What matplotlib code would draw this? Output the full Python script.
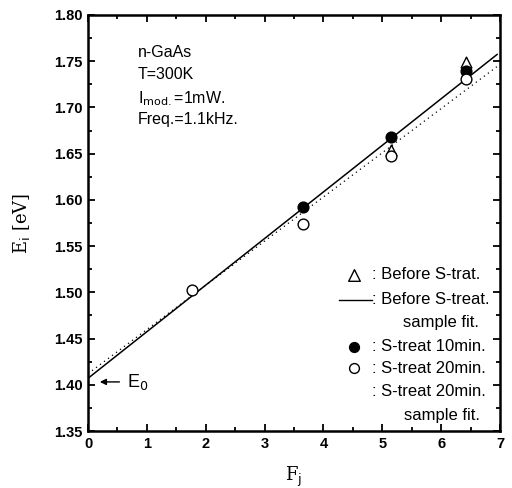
import matplotlib
matplotlib.use("Agg")
import matplotlib.pyplot as plt
from matplotlib.ticker import MultipleLocator
import numpy as np

# Data
f_tri = [5.15, 6.42]
e_tri = [1.654, 1.749]
f_s10 = [3.65, 5.15, 6.42]
e_s10 = [1.592, 1.668, 1.739]
f_s20 = [1.76, 3.65, 5.15, 6.42]
e_s20 = [1.503, 1.574, 1.647, 1.731]
fit_before = [1.407, 0.0504]   # intercept, slope
fit_s20 = [1.412, 0.0478]
fit_range = [0.0, 6.95]

xticks = [0, 1, 2, 3, 4, 5, 6, 7]
yticks = [1.35, 1.40, 1.45, 1.50, 1.55, 1.60, 1.65, 1.70, 1.75, 1.80]

plt.rcParams['font.family'] = ['Liberation Sans', 'DejaVu Sans']

fig = plt.figure(figsize=(5.12, 4.88), dpi=100)
ax = fig.add_axes([0.1719, 0.1168, 0.8047, 0.8525])

xf = np.array(fit_range)
ax.plot(xf, fit_before[0] + fit_before[1] * xf, color='black', lw=1.1, zorder=2)
ax.plot(xf, fit_s20[0] + fit_s20[1] * xf, color='black', lw=0.9, ls=(0, (1, 3)), zorder=2)

ax.scatter(f_tri, e_tri, marker='^', s=60, facecolors='white', edgecolors='black', linewidths=1.0, zorder=3)
ax.scatter(f_s10, e_s10, marker='o', s=60, facecolors='black', edgecolors='black', linewidths=1.0, zorder=4)
ax.scatter(f_s20, e_s20, marker='o', s=60, facecolors='white', edgecolors='black', linewidths=1.0, zorder=5)

ax.set_xlim(0, 7)
ax.set_ylim(1.35, 1.80)
ax.set_xticks(xticks)
ax.set_yticks(yticks)
ax.set_yticklabels([f"{v:.2f}" for v in yticks])
ax.xaxis.set_minor_locator(MultipleLocator(0.5))
ax.yaxis.set_minor_locator(MultipleLocator(0.025))
ax.tick_params(which='both', direction='in', top=True, right=True, width=1.3)
ax.tick_params(which='major', length=5, labelsize=10.5, pad=4)
ax.tick_params(which='minor', length=3)
for lab in ax.get_xticklabels() + ax.get_yticklabels():
    lab.set_fontweight('bold')
for sp in ax.spines.values():
    sp.set_linewidth(1.8)

ax.set_xlabel(r"F$_\mathrm{j}$", family='DejaVu Serif', fontsize=13, labelpad=10)
ax.set_ylabel(r"E$_\mathrm{i}$ [eV]", family='DejaVu Serif', fontsize=13, labelpad=16)

# annotation block
tk = dict(transform=ax.transAxes, fontsize=11.5, va='center', ha='left')
ax.text(0.121, 0.911, "n-GaAs", **tk)
ax.text(0.121, 0.856, "T=300K", **tk)
ax.text(0.121, 0.800, r"I$_{\mathrm{mod.}}$=1mW.", **tk)
ax.text(0.121, 0.748, "Freq.=1.1kHz.", **tk)

# E0 arrow
ax.annotate("", xy=(0.022, 0.118), xytext=(0.083, 0.118), xycoords='axes fraction',
            arrowprops=dict(arrowstyle='-|>', color='black', lw=1.0, mutation_scale=9))
ax.text(0.095, 0.118, r"E$_0$", transform=ax.transAxes, fontsize=13, va='center', ha='left')

# custom legend
lk = dict(transform=ax.transAxes, fontsize=12, va='center', ha='left')
ax.scatter([0.646], [0.375], marker='^', s=70, facecolors='white', edgecolors='black',
           linewidths=1.0, transform=ax.transAxes, clip_on=False, zorder=6)
ax.text(0.690, 0.375, ": Before S-trat.", **lk)
ax.plot([0.609, 0.690], [0.315, 0.315], color='black', lw=1.0, transform=ax.transAxes)
ax.text(0.690, 0.315, ": Before S-treat.", **lk)
ax.text(0.765, 0.262, "sample fit.", **lk)
ax.scatter([0.646], [0.202], marker='o', s=50, facecolors='black', edgecolors='black',
           transform=ax.transAxes, zorder=6)
ax.text(0.690, 0.202, ": S-treat 10min.", **lk)
ax.scatter([0.646], [0.151], marker='o', s=50, facecolors='white', edgecolors='black',
           linewidths=1.0, transform=ax.transAxes, zorder=6)
ax.text(0.690, 0.151, ": S-treat 20min.", **lk)
ax.text(0.690, 0.094, ": S-treat 20min.", **lk)
ax.text(0.767, 0.038, "sample fit.", **lk)

fig.savefig("out.png", dpi=100)
